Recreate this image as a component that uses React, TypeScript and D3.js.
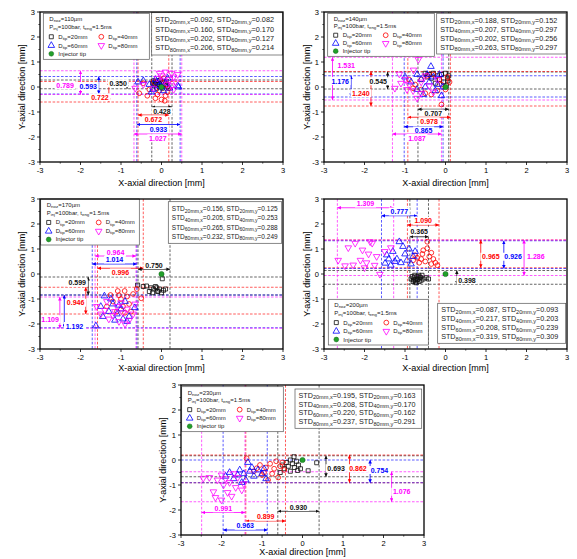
import React from "react";
import * as d3 from "d3";

// nozzle diameters (um) for the five panels
const nozzles = ["110", "140", "170", "200", "230"];
const tipNames = ["20mm", "40mm", "60mm", "80mm"];
const ticks = [-3, -2, -1, 0, 1, 2, 3];

// scatter points [x, y] in mm
const n110_20 = [[-0.2, 0.25], [-0.15, 0.2], [-0.1, 0.1], [-0.05, 0.15], [0, 0.05], [-0.18, 0.05], [-0.12, -0.05], [0.05, 0.2], [0.1, 0.1], [-0.08, 0.25], [0.02, -0.05], [-0.22, 0.15], [0.12, 0.22], [0.15, 0.02], [-0.03, 0.28], [-0.16, 0.12], [-0.06, 0.02]];
const n110_40 = [[-0.55, -0.25], [-0.45, 0.15], [-0.3, -0.1], [-0.1, -0.3], [0, -0.5], [0.1, -0.35], [0.15, -0.2], [-0.2, 0.2], [0.05, 0.35], [-0.35, -0.35], [0.12, 0.1], [-0.05, -0.15], [0.18, -0.05], [-0.15, -0.45], [0.08, -0.55]];
const n110_60 = [[-0.58, 0.2], [-0.45, 0.25], [-0.3, 0.1], [-0.2, -0.1], [-0.1, 0.2], [0, 0], [0.1, 0.15], [0.2, -0.05], [0.4, 0.05], [0.42, 0], [-0.25, -0.2], [0.05, -0.15], [-0.15, 0.3], [0.15, 0.35], [-0.05, 0.05]];
const n110_80 = [[-0.65, -0.05], [-0.45, 0.1], [0.1, 0.6], [0.25, 0.55], [0.3, 0.4], [0.2, 0.3], [0, 0.45], [-0.1, 0.35], [0.35, 0.2], [0.4, 0.5], [0.15, 0.1], [-0.2, -0.05], [0.05, 0.25], [0.25, 0.05], [-0.05, 0.55], [0.3, -0.1]];

const n140_20 = [[-0.5, 0.55], [-0.4, 0.5], [-0.3, 0.55], [-0.2, 0.45], [-0.1, 0.5], [0, 0.55], [0.05, 0.35], [-0.05, 0.2], [0.08, 0.45], [-0.15, 0.3], [-0.35, 0.35], [0.02, 0.05], [-0.25, 0.15], [0.06, 0.25], [-0.45, 0.4]];
const n140_40 = [[-0.9, 0.3], [-0.75, 0.1], [-0.6, -0.1], [-0.5, -0.25], [-0.35, -0.3], [-0.2, -0.15], [-0.1, 0.1], [0.05, 0.4], [0.1, 0.2], [-0.3, 0.5], [-0.45, 0.45], [-0.1, -0.7], [-0.6, 0.3], [-0.15, 0.3], [0, -0.1], [-0.8, -0.05]];
const n140_60 = [[-1.0, 0.4], [-0.85, 0.2], [-0.7, 0.5], [-0.6, 0.3], [-0.5, 0], [-0.4, 0.2], [-0.3, 0.4], [-0.36, 0.82], [-0.2, 0.1], [-0.1, -0.35], [-0.55, -0.3], [-0.25, -0.15], [-0.7, -0.1], [-0.15, 0.5], [-0.45, 0.5], [-0.06, 0]];
const n140_80 = [[-1.25, -0.05], [-1.14, 0.52], [-0.79, 0.68], [-0.67, 1.1], [-0.7, -0.45], [-1.0, 0.3], [-0.9, 0.1], [-0.8, -0.15], [-0.6, 0.2], [-0.5, 0.45], [-0.4, 0.05], [-0.3, -0.2], [-0.95, -0.1], [-0.6, -0.25], [-0.2, 0.3], [-1.1, 0.15]];

const n170_20 = [[-0.59, -0.44], [-0.45, -0.5], [-0.37, -0.48], [-0.26, -0.55], [-0.2, -0.6], [-0.15, -0.5], [-0.1, -0.7], [-0.05, -0.6], [0, -0.75], [0.05, -0.65], [0.1, -0.6], [-0.3, -0.7], [-0.22, -0.75], [0.02, -0.19], [-0.12, -0.55], [-0.08, -0.68]];
const n170_40 = [[-1.08, -0.68], [-0.91, -0.68], [-0.61, -0.6], [-0.5, -0.97], [-1.26, -0.84], [-1.2, -1.1], [-1.0, -1.0], [-0.85, -0.9], [-0.95, -1.3], [-1.1, -1.5], [-0.8, -1.2], [-0.7, -0.8], [-1.35, -1.3], [-0.9, -1.55], [-1.05, -0.85], [-0.75, -1.5]];
const n170_60 = [[-1.62, -2.08], [-0.66, -1.35], [-1.41, -0.88], [-1.5, -1.3], [-1.3, -1.5], [-1.2, -1.2], [-1.1, -1.6], [-1.0, -1.4], [-0.9, -1.1], [-0.85, -1.9], [-0.8, -1.7], [-1.25, -1.0], [-1.45, -1.7], [-1.05, -1.25], [-0.95, -1.8], [-1.15, -1.85]];
const n170_80 = [[-1.6, -1.3], [-1.5, -1.6], [-1.4, -1.45], [-1.3, -1.8], [-1.2, -1.65], [-1.1, -1.3], [-1.05, -1.9], [-0.95, -1.55], [-0.9, -2.0], [-0.85, -1.4], [-0.7, -1.6], [-1.35, -1.1], [-1.0, -1.15], [-1.15, -1.5], [-0.8, -1.85], [-0.65, -1.2]];

const n200_20 = [[-0.85, -0.2], [-0.8, -0.3], [-0.78, -0.15], [-0.75, -0.25], [-0.72, -0.35], [-0.7, -0.1], [-0.68, -0.2], [-0.65, -0.3], [-0.62, -0.15], [-0.6, -0.25], [-0.58, -0.05], [-0.55, -0.2], [-0.48, -0.15], [-0.42, -0.2], [-0.76, -0.05], [-0.66, -0.05], [-0.82, -0.1], [-0.74, -0.32], [-0.7, -0.22], [-0.63, -0.12], [-0.79, -0.24]];
const n200_40 = [[-0.45, 1.29], [-0.45, 1.03], [-0.57, 0.8], [-0.7, 0.65], [-0.8, 0.55], [-0.6, 0.6], [-0.5, 0.5], [-0.4, 0.7], [-0.35, 0.85], [-0.3, 0.6], [-0.25, 0.45], [-0.2, 0.35], [-0.55, 0.95], [-0.65, 0.45], [-0.35, 0.4], [-0.75, 0.75]];
const n200_60 = [[-1.14, 1.29], [-1.45, 0.76], [-1.49, 0.43], [-1.3, 0.9], [-1.2, 0.6], [-1.1, 0.45], [-1.0, 0.8], [-0.95, 0.55], [-0.9, 1.0], [-0.85, 0.4], [-0.8, 0.7], [-1.35, 0.35], [-1.05, 1.1], [-0.75, 0.9], [-1.25, 0.5], [-1.4, 0.6]];
const n200_80 = [[-2.65, 0.55], [-2.48, 0.33], [-2.28, 0.36], [-2.23, 1.23], [-2.05, 0.96], [-1.86, 1.29], [-1.81, 1.23], [-1.62, -0.01], [-2.4, 1.05], [-2.1, 0.55], [-1.95, 0.45], [-1.9, 0.8], [-1.75, 0.35], [-1.7, 0.7], [-1.5, 0.9], [-1.35, 1.05], [-2.0, 0.25]];

const n230_20 = [[-0.21, 0.13], [0.35, -0.11], [0.14, -0.43], [-0.5, -0.2], [-0.45, -0.35], [-0.4, -0.1], [-0.35, -0.25], [-0.3, -0.45], [-0.25, -0.15], [-0.2, -0.3], [-0.15, -0.05], [-0.1, -0.2], [-0.05, -0.35], [-0.3, 0], [-0.55, -0.5], [-0.12, -0.42]];
const n230_40 = [[-1.38, 0.07], [-1.13, -0.33], [-1.2, -0.45], [-1.05, -0.2], [-0.95, -0.5], [-0.9, -0.3], [-0.8, -0.15], [-0.75, -0.55], [-0.7, -0.35], [-0.65, -0.05], [-0.6, -0.7], [-0.55, -0.25], [-0.5, -0.1], [-0.45, -0.4], [-0.85, -0.8], [-1.0, -0.6]];
const n230_60 = [[-1.35, -0.1], [-1.9, -0.65], [-1.8, -0.5], [-1.7, -0.75], [-1.6, -0.6], [-1.55, -0.4], [-1.45, -0.55], [-1.4, -0.8], [-1.3, -0.45], [-1.2, -0.65], [-1.1, -0.4], [-1.0, -0.55], [-0.9, -0.75], [-1.25, -0.3], [-1.5, -0.9], [-0.95, -0.35]];
const n230_80 = [[-2.45, -0.73], [-2.2, -1.27], [-2.0, -1.6], [-2.1, -0.8], [-2.0, -0.6], [-1.95, -1.0], [-1.9, -0.75], [-1.85, -1.3], [-1.8, -0.9], [-1.75, -1.45], [-1.65, -1.1], [-1.6, -0.7], [-1.5, -1.2], [-2.3, -0.7], [-2.15, -1.5], [-1.7, -0.55], [-1.45, -0.95]];

// dashed extents per tip distance: [xmin, xmax, ymin, ymax]
const box110 = [[-0.24, 0.26, -0.07, 0.28], [-0.58, 0.18, -0.6, 0.22], [-0.61, 0.46, -0.28, 0.42], [-0.68, 0.5, -0.3, 0.65]];
const box140 = [[-0.68, 0.08, -0.08, 0.6], [-0.93, 0.12, -0.76, 0.62], [-1.02, -0.06, -0.4, 0.45], [-1.31, -0.1, -0.52, 1.19]];
const box170 = [[-0.58, 0.21, -0.84, -0.12], [-1.58, -0.45, -1.6, -0.53], [-1.71, -0.61, -2.15, -0.84], [-1.64, -0.63, -2.17, -0.92]];
const box200 = [[-0.88, -0.42, -0.41, 0.14], [-0.94, -0.16, 0.25, 1.36], [-1.58, -0.7, 0.22, 1.33], [-2.67, -1.28, -0.06, 1.36]];
const box230 = [[-0.61, 0.41, -0.67, 0.17], [-1.4, -0.42, -0.91, 0.2], [-1.96, -0.87, -0.91, 0], [-2.49, -1.42, -1.67, -0.47]];

// spread annotations: series, direction, where the arrow sits, label and its place
const ann110 = [
  { s: 3, dir: "y", at: -2.0, text: "0.789", lx: -2.38, ly: 0.08 },
  { s: 2, dir: "y", at: -1.55, text: "0.593", lx: -1.81, ly: 0.04 },
  { s: 1, dir: "y", at: -1.3, text: "0.722", lx: -1.52, ly: -0.41 },
  { s: 0, dir: "y", at: -0.85, text: "0.350", lx: -1.07, ly: 0.15 },
  { s: 0, dir: "x", at: -0.8, text: "0.428", ly: -0.97 },
  { s: 1, dir: "x", at: -1.12, text: "0.672", ly: -1.3 },
  { s: 2, dir: "x", at: -1.5, text: "0.933", ly: -1.68 },
  { s: 3, dir: "x", at: -1.88, text: "1.027", ly: -2.05 },
];
const ann140 = [
  { s: 3, dir: "y", at: -2.79, text: "1.531", lx: -2.45, ly: 0.88 },
  { s: 2, dir: "y", at: -2.33, text: "1.176", lx: -2.6, ly: 0.24 },
  { s: 1, dir: "y", at: -1.84, text: "1.240", lx: -2.09, ly: -0.25 },
  { s: 0, dir: "y", at: -1.43, text: "0.545", lx: -1.66, ly: 0.23 },
  { s: 0, dir: "x", at: -0.89, text: "0.707", ly: -1.06 },
  { s: 1, dir: "x", at: -1.21, text: "0.978", ly: -1.37 },
  { s: 2, dir: "x", at: -1.59, text: "0.865", ly: -1.74 },
  { s: 3, dir: "x", at: -1.88, text: "1.087", ly: -2.04 },
];
const ann170 = [
  { s: 3, dir: "x", at: 0.72, text: "0.964", ly: 0.85 },
  { s: 2, dir: "x", at: 0.4, text: "1.014", ly: 0.58 },
  { s: 1, dir: "x", at: 0.23, text: "0.996", ly: 0.06 },
  { s: 0, dir: "x", at: 0.19, text: "0.750", ly: 0.36 },
  { s: 0, dir: "y", at: -1.81, text: "0.599", lx: -2.08, ly: -0.35 },
  { s: 1, dir: "y", at: -1.87, text: "0.946", lx: -2.12, ly: -1.15 },
  { s: 2, dir: "y", at: -2.4, text: "1.192", lx: -2.15, ly: -2.08 },
  { s: 3, dir: "y", at: -2.51, text: "1.109", lx: -2.75, ly: -1.81 },
];
const ann200 = [
  { s: 1, dir: "y", at: 0.87, text: "0.965", lx: 1.12, ly: 0.69 },
  { s: 2, dir: "y", at: 1.44, text: "0.926", lx: 1.67, ly: 0.69 },
  { s: 3, dir: "y", at: 1.94, text: "1.286", lx: 2.23, ly: 0.69 },
  { s: 0, dir: "y", at: 0.28, text: "0.398", lx: 0.53, ly: -0.24 },
  { s: 3, dir: "x", at: 2.65, text: "1.309", ly: 2.82 },
  { s: 2, dir: "x", at: 2.33, text: "0.777", ly: 2.5 },
  { s: 1, dir: "x", at: 1.96, text: "1.090", ly: 2.13 },
  { s: 0, dir: "x", at: 1.49, text: "0.365", ly: 1.72 },
];
const ann230 = [
  { s: 0, dir: "y", at: 0.58, text: "0.693", lx: 0.83, ly: -0.33 },
  { s: 1, dir: "y", at: 1.16, text: "0.862", lx: 1.37, ly: -0.33 },
  { s: 2, dir: "y", at: 1.67, text: "0.754", lx: 1.9, ly: -0.4 },
  { s: 3, dir: "y", at: 2.2, text: "1.076", lx: 2.45, ly: -1.27 },
  { s: 0, dir: "x", at: -2.05, text: "0.930", ly: -1.88 },
  { s: 3, dir: "x", at: -2.1, text: "0.991", ly: -1.93 },
  { s: 1, dir: "x", at: -2.44, text: "0.899", ly: -2.27 },
  { s: 2, dir: "x", at: -2.8, text: "0.963", ly: -2.63 },
];

// standard deviations [x, y] per tip distance
const std110 = [["0.092", "0.082"], ["0.160", "0.170"], ["0.202", "0.127"], ["0.206", "0.214"]];
const std140 = [["0.188", "0.152"], ["0.207", "0.297"], ["0.202", "0.256"], ["0.263", "0.297"]];
const std170 = [["0.156", "0.125"], ["0.205", "0.253"], ["0.265", "0.288"], ["0.232", "0.249"]];
const std200 = [["0.087", "0.093"], ["0.217", "0.203"], ["0.208", "0.239"], ["0.319", "0.309"]];
const std230 = [["0.195", "0.163"], ["0.208", "0.170"], ["0.220", "0.162"], ["0.237", "0.291"]];

const W = 243;
const H = 150;
const FONT = "'Liberation Sans', Arial, sans-serif";
const colors = ["#111111", "#ff0000", "#0000ff", "#ff00ff"];
const injColor = "#22a02a";
const symbolTypes = [d3.symbolSquare, d3.symbolCircle, d3.symbolTriangle, d3.symbolTriangle];
const symbolRot = [0, 0, 0, 180];
const symbolSize = [16, 18, 19, 19];

const panels = [
  { noz: nozzles[0], left: 40, top: 12, pts: [n110_20, n110_40, n110_60, n110_80], box: box110, ann: ann110, std: std110, leg: [3.3, 1.3, 106, 46], sb: [111.7, 0.7, 131, 42.3], sf: 7.3, ylx: 22, xly: 24 },
  { noz: nozzles[1], left: 324, top: 12, pts: [n140_20, n140_40, n140_60, n140_80], box: box140, ann: ann140, std: std140, leg: [3.7, 1.3, 106.6, 43], sb: [112.7, 1.3, 129.3, 40.7], sf: 7.2, ylx: 307, xly: 24 },
  { noz: nozzles[2], left: 40, top: 199, pts: [n170_20, n170_40, n170_60, n170_80], box: box170, ann: ann170, std: std170, leg: [0.7, 0, 98.6, 46], sb: [128.3, 2.7, 113.4, 41.6], sf: 6.5, ylx: 22, xly: 22 },
  { noz: nozzles[3], left: 324, top: 199, pts: [n200_20, n200_40, n200_60, n200_80], box: box200, ann: ann200, std: std200, leg: [4.3, 100.3, 100, 45.7], sb: [113.7, 104.3, 128, 40], sf: 7.2, ylx: 307, xly: 22 },
  { noz: nozzles[4], left: 181, top: 385, pts: [n230_20, n230_40, n230_60, n230_80], box: box230, ann: ann230, std: std230, leg: [0.7, 1.7, 101.6, 45], sb: [114, 4, 126.7, 39.3], sf: 7.2, ylx: 163, xly: 20 },
];

function Marker({ s, x, y }) {
  const d = d3.symbol().type(symbolTypes[s]).size(symbolSize[s])();
  return (
    <path d={d} transform={`translate(${x},${y}) rotate(${symbolRot[s]})`} fill="none" stroke={colors[s]} strokeWidth={0.8} />
  );
}

function Panel({ p, idx }) {
  const x = d3.scaleLinear().domain([-3, 3]).range([0, W]);
  const y = d3.scaleLinear().domain([-3, 3]).range([H, 0]);
  const clip = `clip${idx}`;
  const minor = d3.range(-2.5, 3, 1);
  const [lx, ly, lw, lh] = p.leg;
  const [sx, sy, sw, sh] = p.sb;
  const rowF = [0.13, 0.3, 0.51, 0.7, 0.88];
  const sub = p.sf * 0.78;

  return (
    <g transform={`translate(${p.left},${p.top})`} fontFamily={FONT}>
      <clipPath id={clip}>
        <rect x={0} y={0} width={W} height={H} />
      </clipPath>
      <rect x={0} y={0} width={W} height={H} fill="#fff" />
      <g clipPath={`url(#${clip})`}>
        {p.box.map((b, s) => (
          <g key={s} stroke={colors[s]} strokeWidth={0.75} strokeDasharray="2.6,1.6" opacity={0.85}>
            <line x1={x(b[0])} x2={x(b[0])} y1={0} y2={H} />
            <line x1={x(b[1])} x2={x(b[1])} y1={0} y2={H} />
            <line x1={0} x2={W} y1={y(b[2])} y2={y(b[2])} />
            <line x1={0} x2={W} y1={y(b[3])} y2={y(b[3])} />
          </g>
        ))}
        {p.pts.map((arr, s) => (
          <g key={s}>
            {arr.map((d, i) => (
              <Marker key={i} s={s} x={x(d[0])} y={y(d[1])} />
            ))}
          </g>
        ))}
        <circle cx={x(0)} cy={y(0)} r={2.6} fill={injColor} stroke="#0d6614" strokeWidth={0.5} />
        {p.ann.map((a, i) => {
          const b = p.box[a.s];
          const c = colors[a.s];
          let line;
          let tx;
          let ty;
          if (a.dir === "x") {
            line = <line x1={x(b[0])} x2={x(b[1])} y1={y(a.at)} y2={y(a.at)} />;
            tx = (x(b[0]) + x(b[1])) / 2;
            ty = y(a.ly);
          } else {
            line = <line x1={x(a.at)} x2={x(a.at)} y1={y(b[2])} y2={y(b[3])} />;
            tx = x(a.lx);
            ty = y(a.ly);
          }
          return (
            <g key={i}>
              <g stroke={c} strokeWidth={0.8} markerStart={`url(#arr${a.s})`} markerEnd={`url(#arr${a.s})`}>
                {line}
              </g>
              <rect x={tx - 10.5} y={ty - 4} width={21} height={8} fill="#fff" />
              <text x={tx} y={ty + 2.5} textAnchor="middle" fontSize={7} fontWeight="bold" fill={c}>
                {a.text}
              </text>
            </g>
          );
        })}
      </g>

      {/* legend */}
      <rect x={lx} y={ly} width={lw} height={lh} fill="#fff" stroke="#555" strokeWidth={0.7} />
      <g fontSize={6} fill="#222">
        <text x={lx + 6} y={ly + lh * rowF[0] + 2}>
          D<tspan fontSize={4.4} dy={1.2}>noz</tspan>
          <tspan dy={-1.2}>={p.noz}µm</tspan>
        </text>
        <text x={lx + 6} y={ly + lh * rowF[1] + 2}>
          P<tspan fontSize={4.4} dy={1.2}>inj</tspan>
          <tspan dy={-1.2}>=100bar, t</tspan>
          <tspan fontSize={4.4} dy={1.2}>eng</tspan>
          <tspan dy={-1.2}>=1.5ms</tspan>
        </text>
        {tipNames.map((t, s) => {
          const col = s % 2;
          const row = 2 + Math.floor(s / 2);
          const mx = lx + 8 + col * 50;
          const my = ly + lh * rowF[row];
          return (
            <g key={t}>
              <Marker s={s} x={mx} y={my} />
              <text x={mx + 7} y={my + 2}>
                D<tspan fontSize={4.4} dy={1.2}>tip</tspan>
                <tspan dy={-1.2}>={t}</tspan>
              </text>
            </g>
          );
        })}
        <circle cx={lx + 8} cy={ly + lh * rowF[4]} r={2.4} fill={injColor} stroke="#0d6614" strokeWidth={0.5} />
        <text x={lx + 15} y={ly + lh * rowF[4] + 2}>Injector tip</text>
      </g>

      {/* standard deviation box */}
      <rect x={sx} y={sy} width={sw} height={sh} fill="#fff" stroke="#555" strokeWidth={0.7} />
      <g fontSize={p.sf} fill="#222">
        {p.std.map((v, s) => (
          <text key={s} x={sx + 3.5} y={sy + sh * (0.17 + s * 0.222) + 2.3}>
            STD<tspan fontSize={sub} dy={1.5}>{tipNames[s]},x</tspan>
            <tspan dy={-1.5}>={v[0]}, STD</tspan>
            <tspan fontSize={sub} dy={1.5}>{tipNames[s]},y</tspan>
            <tspan dy={-1.5}>={v[1]}</tspan>
          </text>
        ))}
      </g>

      {/* axes */}
      <rect x={0} y={0} width={W} height={H} fill="none" stroke="#000" strokeWidth={1.3} />
      {ticks.map((t) => (
        <g key={t}>
          <line x1={x(t)} x2={x(t)} y1={H} y2={H + 3} stroke="#000" strokeWidth={0.8} />
          <line x1={-3} x2={0} y1={y(t)} y2={y(t)} stroke="#000" strokeWidth={0.8} />
          <text x={x(t)} y={H + 10.5} textAnchor="middle" fontSize={7.5}>
            {t}
          </text>
          <text x={-5} y={y(t) + 2.6} textAnchor="end" fontSize={7.5}>
            {t}
          </text>
        </g>
      ))}
      {minor.map((t) => (
        <g key={t}>
          <line x1={x(t)} x2={x(t)} y1={H} y2={H + 1.7} stroke="#000" strokeWidth={0.6} />
          <line x1={-1.7} x2={0} y1={y(t)} y2={y(t)} stroke="#000" strokeWidth={0.6} />
        </g>
      ))}
      <text x={W / 2} y={H + p.xly} textAnchor="middle" fontSize={9}>
        X-axial direction [mm]
      </text>
      <text transform={`translate(${p.ylx - p.left},${H / 2}) rotate(-90)`} textAnchor="middle" fontSize={9} dy={3}>
        Y-axial direction [mm]
      </text>
    </g>
  );
}

export default function App() {
  return (
    <svg width={577} height={559} style={{ position: "absolute", left: 0, top: 0, display: "block", background: "#fff" }}>
      <defs>
        {colors.map((c, i) => (
          <marker key={i} id={`arr${i}`} viewBox="0 0 6 6" refX={6} refY={3} markerWidth={3.6} markerHeight={3.6} markerUnits="userSpaceOnUse" orient="auto-start-reverse">
            <path d="M0,0L6,3L0,6z" fill={c} />
          </marker>
        ))}
      </defs>
      {panels.map((p, i) => (
        <Panel key={i} p={p} idx={i} />
      ))}
    </svg>
  );
}
